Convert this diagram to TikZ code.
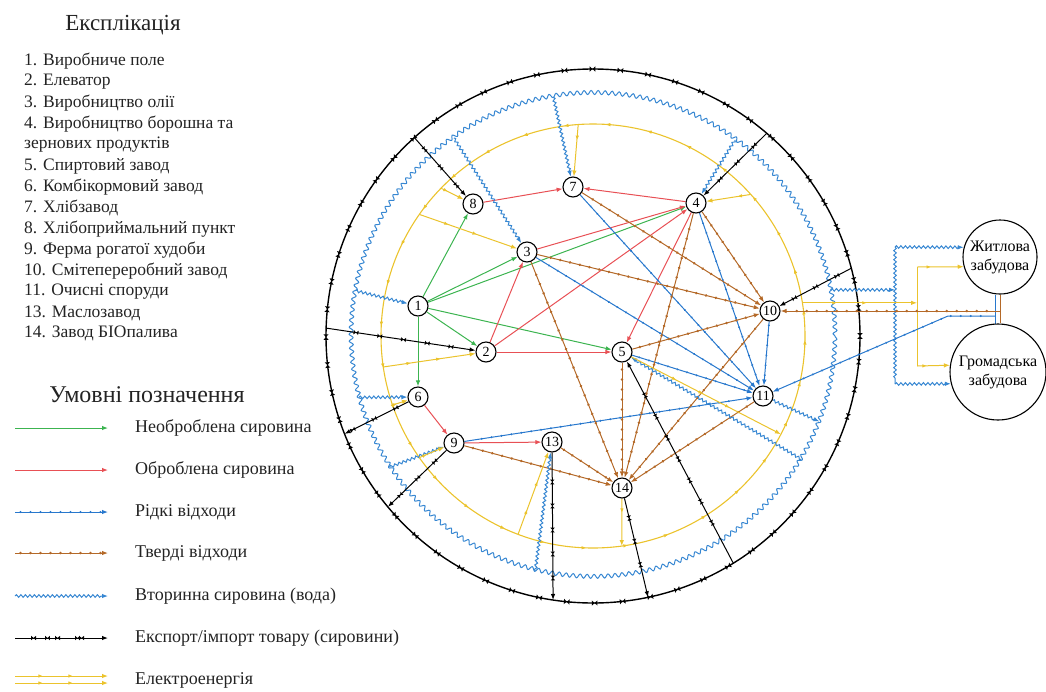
\documentclass[tikz,border=0pt]{standalone}
\usepackage{fontspec}
\setmainfont{Liberation Serif}
\usetikzlibrary{arrows.meta,decorations.pathmorphing,decorations.markings,calc}
\definecolor{cg}{RGB}{60,180,80}
\definecolor{cr}{RGB}{232,80,85}
\definecolor{cb}{RGB}{40,120,205}
\definecolor{cbr}{RGB}{180,105,40}
\definecolor{cw}{RGB}{55,135,210}
\definecolor{cy}{RGB}{235,195,45}
\definecolor{ctx}{RGB}{35,35,35}
\pgfdeclarelayer{bg}
\pgfsetlayers{bg,main}
\begin{document}
\begin{tikzpicture}[x=1pt,y=-1pt,
  nd/.style={circle,draw,line width=1.1pt,fill=white,minimum size=20pt,inner sep=0pt,font=\fontsize{14}{14}\selectfont},
  bld/.style={circle,draw,line width=1.1pt,fill=white,inner sep=0pt,align=center,font=\fontsize{16}{19}\selectfont},
  tip/.style={-{Latex[length=6pt,width=4.5pt]}},
  grn/.style={draw=cg,line width=1pt,tip},
  rd/.style={draw=cr,line width=1pt,tip},
  liq/.style={draw=cb,line width=1pt,tip,postaction={decorate},
    decoration={markings,mark=between positions 0.06 and 0.94 step 10pt with {\fill[cb] (0,0) circle (1.1pt);}}},
  sol/.style={draw=cbr,line width=1pt,tip,postaction={decorate},
    decoration={markings,mark=between positions 0.06 and 0.94 step 10pt with {\fill[cbr] (-1.4pt,0)--(0,1.4pt)--(1.4pt,0)--(0,-1.4pt)--cycle;}}},
  wat/.style={draw=cw,line width=1pt,tip,decorate,
    decoration={snake,amplitude=1.3pt,segment length=4.5pt,post length=5pt}},
  exim/.style={draw=black,line width=1pt,tip,postaction={decorate},
    decoration={markings,mark=between positions 0.2 and 0.9 step 24pt with {\fill (-2.4pt,-2.2pt)--(2.4pt,2.2pt)--(2.4pt,-2.2pt)--(-2.4pt,2.2pt)--cycle;}}},
  elec/.style={draw=cy,line width=1pt,tip,postaction={decorate},
    decoration={markings,mark=between positions 0.3 and 0.8 step 30pt with {\arrow[cy]{Latex[length=4.5pt,width=3.5pt]}}}},
  itm/.style={anchor=west,inner sep=0pt,text=ctx,font=\fontsize{17.5}{20}\selectfont},
  lgt/.style={anchor=west,inner sep=0pt,text=ctx,font=\fontsize{18}{20}\selectfont}
]
\useasboundingbox (0,0) rectangle (1046,691);
\coordinate (C) at (593,336);

% ---------------- explication ----------------
\node[inner sep=0pt,text=ctx,font=\fontsize{23}{26}\selectfont] (tit1) at (123,25) {Експлікація};
\node[itm] (i1) at (24,61) {1. Виробниче поле};
\node[itm] (i2) at (24,82) {2. Елеватор};
\node[itm] (i3) at (24,103) {3. Виробництво олії};
\node[itm] (i4) at (24,124) {4. Виробництво борошна та};
\node[itm] (i4b) at (24,145) {зернових продуктів};
\node[itm] (i5) at (24,166) {5. Спиртовий завод};
\node[itm] (i6) at (24,187) {6. Комбікормовий завод};
\node[itm] (i7) at (24,208) {7. Хлібзавод};
\node[itm] (i8) at (24,229) {8. Хлібоприймальний пункт};
\node[itm] (i9) at (24,250) {9. Ферма рогатої худоби};
\node[itm] (i10) at (24,271) {10. Смітепереробний завод};
\node[itm] (i11) at (24,292) {11. Очисні споруди};
\node[itm] (i13) at (24,313) {13. Маслозавод};
\node[itm] (i14) at (24,333) {14. Завод БІОпалива};

% ---------------- legend ----------------
\node[inner sep=0pt,text=ctx,font=\fontsize{24}{28}\selectfont] (tit2) at (147,395) {Умовні позначення};
\draw[grn] (15,428) -- (108,428);
\node[lgt] (l1) at (135,428) {Необроблена сировина};
\draw[rd] (15,470) -- (108,470);
\node[lgt] (l2) at (135,470) {Оброблена сировина};
\draw[liq] (15,512) -- (108,512);
\node[lgt] (l3) at (135,512) {Рідкі відходи};
\draw[sol] (15,553) -- (108,553);
\node[lgt] (l4) at (135,553) {Тверді відходи};
\draw[wat] (15,596) -- (108,596);
\node[lgt] (l5) at (135,596) {Вторинна сировина (вода)};
\draw[exim,decoration={markings,mark=between positions 0.35 and 0.7 step 30pt with {\fill (-2.4pt,-2.2pt)--(2.4pt,2.2pt)--(2.4pt,-2.2pt)--(-2.4pt,2.2pt)--cycle;}}] (15,638) -- (108,638);
\node[lgt] (l6) at (135,638) {Експорт/імпорт товару (сировини)};
\draw[elec] (15,676) -- (108,676);
\draw[elec] (15,683) -- (108,683);
\node[lgt] (l7) at (135,680) {Електроенергія};

% ---------------- nodes ----------------
\node[nd] (n1) at (418,306) {1};
\node[nd] (n2) at (486,352) {2};
\node[nd] (n3) at (527,252) {3};
\node[nd] (n4) at (696,203) {4};
\node[nd] (n5) at (622,352) {5};
\node[nd] (n6) at (418,397) {6};
\node[nd] (n7) at (573,187) {7};
\node[nd] (n8) at (473,204) {8};
\node[nd] (n9) at (454,443) {9};
\node[nd] (n10) at (770,311) {10};
\node[nd] (n11) at (763,396) {11};
\node[nd] (n13) at (552,442) {13};
\node[nd] (n14) at (622,488) {14};
\node[bld,minimum size=74pt] (zh) at (1000,257) {Житлова\\забудова};
\node[bld,minimum size=96pt] (gr) at (998,372) {Громадська\\забудова};

% ---------------- ring points ----------------
\coordinate (b8) at ($(C)+(228:267)$);
\coordinate (b4) at ($(C)+(-49.4:267)$);
\coordinate (b10) at ($(C)+(-14.7:267)$);
\coordinate (b2) at ($(C)+(181.7:267)$);
\coordinate (b6) at ($(C)+(158.5:267)$);
\coordinate (b9) at ($(C)+(140.2:267)$);
\coordinate (b13) at ($(C)+(98.6:267)$);
\coordinate (b14) at ($(C)+(78.1:267)$);
\coordinate (b5) at ($(C)+(58.3:267)$);
\coordinate (w1) at ($(C)+(190.8:242)$);
\coordinate (w3) at ($(C)+(234.9:242)$);
\coordinate (w7) at ($(C)+(260.6:242)$);
\coordinate (w4) at ($(C)+(305.9:242)$);
\coordinate (w6) at ($(C)+(165.3:242)$);
\coordinate (w9) at ($(C)+(147.2:242)$);
\coordinate (w13) at ($(C)+(103.8:242)$);
\coordinate (w5) at ($(C)+(30.6:242)$);
\coordinate (w11) at ($(C)+(20.7:242)$);
\coordinate (wR) at ($(C)+(-11:242)$);
\coordinate (e8) at ($(C)+(224.2:212)$);
\coordinate (e3) at ($(C)+(215:212)$);
\coordinate (e7) at ($(C)+(266:212)$);
\coordinate (e4) at ($(C)+(-41.9:212)$);
\coordinate (e2) at ($(C)+(171.6:212)$);
\coordinate (e6) at ($(C)+(161:212)$);
\coordinate (e9) at ($(C)+(145:212)$);
\coordinate (e13) at ($(C)+(110.7:212)$);
\coordinate (e14) at ($(C)+(82.2:212)$);
\coordinate (e5) at ($(C)+(27.6:212)$);
\coordinate (yR) at ($(C)+(-9:212)$);
\coordinate (wvT) at (895,247);
\coordinate (wvB) at (895,384);
\coordinate (yvT) at (917,267);
\coordinate (yvB) at (917,366);
\coordinate (bv) at (1000,311);
\coordinate (lqT) at (995,295);
\coordinate (lqB) at (995,325);
\coordinate (lq1) at (995,316);
\coordinate (lq2) at (948,316);

\begin{pgfonlayer}{bg}
% rings
\draw[line width=1.4pt,postaction={decorate},
  decoration={markings,mark=between positions 0 and 1 step 28pt with {\fill (-2.8pt,-2.6pt)--(2.8pt,2.6pt)--(2.8pt,-2.6pt)--(-2.8pt,2.6pt)--cycle;}}]
  (C) circle[radius=267pt];
\draw[cw,line width=1pt,decorate,decoration={snake,amplitude=2pt,segment length=7pt}] (C) circle[radius=242pt];
\draw[cy,line width=1.1pt,postaction={decorate},
  decoration={markings,mark=between positions 0.02 and 1 step 42pt with {\arrow[cy]{Latex[length=5pt,width=3.5pt]}}}]
  (C) circle[radius=212pt];

% green
\draw[grn] (n1)--(n8);
\draw[grn] (n1)--(n3);
\draw[grn] (n1)--(n4);
\draw[grn] (n1)--(n2);
\draw[grn] (n1)--(n5);
\draw[grn] (n1)--(n6);
% red
\draw[rd] (n8)--(n7);
\draw[rd] (n4)--(n7);
\draw[rd] (n2)--(n3);
\draw[rd] (n2)--(n4);
\draw[rd] (n3)--(n4);
\draw[rd] (n2)--(n5);
\draw[rd] (n4)--(n5);
\draw[rd] (n6)--(n9);
\draw[rd] (n9)--(n13);
% liquid waste
\draw[liq] (n7)--(n11);
\draw[liq] (n3)--(n11);
\draw[liq] (n4)--(n11);
\draw[liq] (n10)--(n11);
\draw[liq] (n5)--(n11);
\draw[liq] (n9)--(n11);
% solid waste
\draw[sol] (n7)--(n10);
\draw[sol] (n4)--(n10);
\draw[sol] (n3)--(n10);
\draw[sol] (n5)--(n10);
\draw[sol] (n3)--(n14);
\draw[sol] (n4)--(n14);
\draw[sol] (n5)--(n14);
\draw[sol] (n10)--(n14);
\draw[sol] (n11)--(n14);
\draw[sol] (n9)--(n14);
\draw[sol] (n13)--(n14);
% export / import
\draw[exim] (b8)--(n8);
\draw[exim] (b4)--(n4);
\draw[exim] (b10)--(n10);
\draw[exim] (b2)--(n2);
\draw[exim] (n6)--(b6);
\draw[exim] (n9)--(b9);
\draw[exim] (n13)--(b13);
\draw[exim] (n14)--(b14);
\draw[exim] (b5)--(n5);
% water
\draw[wat] (w1)--(n1);
\draw[wat] (w3)--(n3);
\draw[wat] (w7)--(n7);
\draw[wat] (w4)--(n4);
\draw[wat] (w6)--(n6);
\draw[wat] (w9)--(n9);
\draw[wat] (w13)--(n13);
\draw[wat] (w5)--(n5);
\draw[wat] (n11)--(w11);
% electricity
\draw[elec] (e8)--(n8);
\draw[elec] (e3)--(n3);
\draw[elec] (e7)--(n7);
\draw[elec] (e4)--(n4);
\draw[elec] (e2)--(n2);
\draw[elec] (e6)--(n6);
\draw[elec] (e9)--(n9);
\draw[elec] (e13)--(n13);
\draw[elec] (n14)--(e14);
\draw[elec] (n5)--(e5);

% right-hand supply to buildings
\draw[wat] (wR) -- (wR -| wvT);
\draw[wat,-] (wvT) -- (wvB);
\draw[wat] (wvT) -- (zh.165);
\draw[wat] (wvB) -- (gr.194.5);
\draw[elec] (yR) -- (yR -| yvT);
\draw[draw=cy,line width=1pt] (yvT) -- (yvB);
\draw[elec] (yvT) -- (zh.195.6);
\draw[elec] (yvB) -- (gr.172.8);
\draw[draw=cbr,line width=1pt] (zh.south) -- (zh.south |- gr.north);
\draw[draw=cb,line width=1pt] (lqT) -- (lqB);
\draw[sol] (bv) -- (n10);
\draw[liq] (lq1) -- (lq2) -- (n11);
\end{pgfonlayer}
\end{tikzpicture}
\end{document}
